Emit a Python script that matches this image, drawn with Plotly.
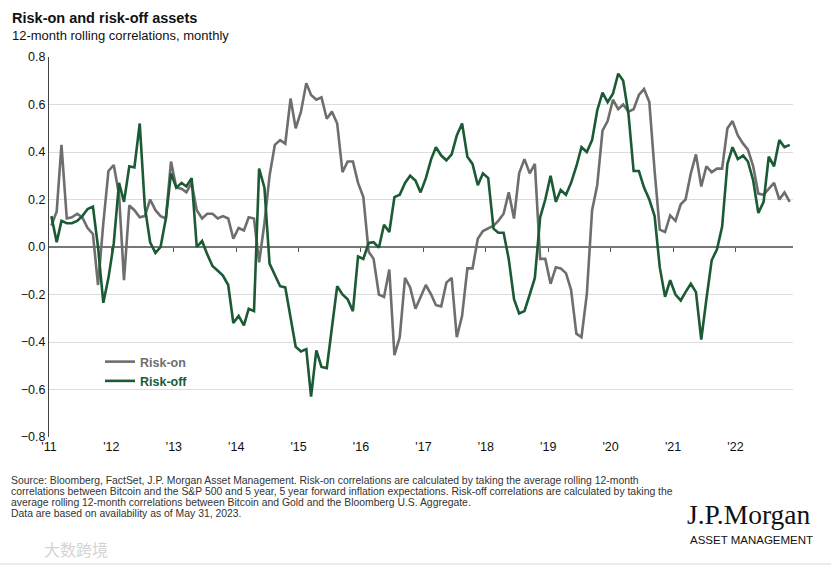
# risk_on_off.py
# Bitcoin 12-month rolling correlations with risk-on and risk-off assets,
# monthly from 2011. Values read off the J.P. Morgan chart by eye.

import pandas as pd
import plotly.graph_objects as go

# Risk-on: Bitcoin vs S&P 500 and 5y5y inflation expectations (avg)
risk_on = [
    0.09, 0.15, 0.43, 0.12, 0.125, 0.14, 0.125, 0.08, 0.055, -0.16,
    0.10, 0.32, 0.345, 0.22, -0.14, 0.175, 0.155, 0.125, 0.13, 0.20,
    0.155, 0.13, 0.12, 0.36, 0.25, 0.245, 0.23, 0.27, 0.155, 0.12,
    0.14, 0.14, 0.12, 0.13, 0.12, 0.035, 0.08, 0.07, 0.125, 0.12,
    -0.065, 0.10, 0.30, 0.43, 0.45, 0.435, 0.625, 0.50, 0.57, 0.69,
    0.64, 0.62, 0.63, 0.54, 0.57, 0.52, 0.315, 0.36, 0.36, 0.27,
    0.21, -0.02, -0.05, -0.20, -0.21, -0.095, -0.455, -0.38, -0.13, -0.17,
    -0.26, -0.21, -0.16, -0.20, -0.245, -0.25, -0.15, -0.13, -0.38, -0.29,
    -0.09, -0.09, 0.035, 0.067, 0.08, 0.09, 0.11, 0.14, 0.23, 0.12,
    0.31, 0.37, 0.31, 0.35, -0.05, -0.05, -0.155, -0.085, -0.09, -0.11,
    -0.18, -0.365, -0.38, -0.20, 0.155, 0.26, 0.49, 0.53, 0.62, 0.58,
    0.60, 0.57, 0.58, 0.64, 0.665, 0.61, 0.32, 0.073, 0.063, 0.133,
    0.11, 0.18, 0.20, 0.31, 0.39, 0.255, 0.34, 0.315, 0.33, 0.33,
    0.50, 0.53, 0.47, 0.435, 0.41, 0.34, 0.225, 0.22, 0.245, 0.27,
    0.20, 0.23, 0.19,
]

# Risk-off: Bitcoin vs Gold and Bloomberg U.S. Aggregate (avg)
risk_off = [
    0.13, 0.02, 0.11, 0.10, 0.10, 0.11, 0.13, 0.16, 0.17, 0.00,
    -0.235, -0.13, 0.015, 0.27, 0.19, 0.34, 0.335, 0.52, 0.17, 0.02,
    -0.025, 0.00, 0.12, 0.31, 0.25, 0.27, 0.255, 0.29, 0.00, 0.025,
    -0.03, -0.08, -0.10, -0.12, -0.16, -0.32, -0.29, -0.33, -0.26, -0.27,
    0.33, 0.25, -0.07, -0.12, -0.165, -0.17, -0.29, -0.42, -0.44, -0.43,
    -0.63, -0.435, -0.505, -0.51, -0.34, -0.165, -0.20, -0.22, -0.27, -0.04,
    -0.05, 0.017, 0.02, -0.003, 0.094, 0.063, 0.21, 0.22, 0.27, 0.30,
    0.28, 0.23, 0.29, 0.37, 0.42, 0.385, 0.365, 0.39, 0.47, 0.52,
    0.38, 0.35, 0.26, 0.31, 0.29, 0.077, 0.06, 0.06, -0.05, -0.22,
    -0.28, -0.27, -0.20, -0.13, 0.125, 0.20, 0.30, 0.19, 0.24, 0.22,
    0.27, 0.34, 0.42, 0.40, 0.45, 0.575, 0.65, 0.61, 0.645, 0.73,
    0.70, 0.56, 0.32, 0.32, 0.25, 0.20, 0.13, -0.085, -0.21, -0.14,
    -0.20, -0.225, -0.19, -0.155, -0.19, -0.39, -0.22, -0.056, -0.01, 0.085,
    0.35, 0.42, 0.37, 0.385, 0.36, 0.28, 0.143, 0.19, 0.38, 0.34,
    0.45, 0.42, 0.43,
]

years = list(range(2011, 2023))
year_labels = ["'" + str(y)[2:] for y in years]

source_lines = [
    "Source: Bloomberg, FactSet, J.P. Morgan Asset Management. Risk-on correlations are calculated by taking the average rolling 12-month",
    "correlations between Bitcoin and the S&P 500 and 5 year, 5 year forward inflation expectations. Risk-off correlations are calculated by taking the",
    "average rolling 12-month correlations between Bitcoin and Gold and the Bloomberg U.S. Aggregate.",
    "Data are based on availability as of May 31, 2023.",
]

GRAY = "#6e6e6e"
GREEN = "#1b5a34"
FONT = "Liberation Sans, Arial, sans-serif"

# monthly points, plotted mid-month
dates = pd.date_range("2011-01-01", periods=len(risk_on), freq="MS") + pd.Timedelta(days=14)
tick_dates = [pd.Timestamp(f"{y}-01-01") for y in years]
x_range = [pd.Timestamp("2011-01-01"), pd.Timestamp("2022-12-04")]

# plot box in pixels (831x566 canvas)
L, R, T, B = 49, 38, 57, 129
W, H = 831, 566
PW, PH = W - L - R, H - T - B


def px_x(x):
    return (x - L) / PW


def px_y(y):
    return (H - B - y) / PH


fig = go.Figure()

fig.add_trace(go.Scatter(
    x=dates, y=risk_on, mode="lines",
    name=f"<span style='color:{GRAY}'><b>Risk-on</b></span>",
    line=dict(color=GRAY, width=2.6),
))
fig.add_trace(go.Scatter(
    x=dates, y=risk_off, mode="lines",
    name=f"<span style='color:{GREEN}'><b>Risk-off</b></span>",
    line=dict(color=GREEN, width=2.6),
))
# invisible trace so the tick-only axis on the zero line gets drawn
fig.add_trace(go.Scatter(
    x=dates, y=[None] * len(dates), xaxis="x2", showlegend=False, hoverinfo="skip",
))

annotations = [
    dict(text="<b>Risk-on and risk-off assets</b>", x=px_x(10), y=px_y(18),
         font=dict(size=14.5, color="#111")),
    dict(text="12-month rolling correlations, monthly", x=px_x(10), y=px_y(35),
         font=dict(size=13, color="#111")),
    dict(text="J.P.Morgan", x=px_x(685), y=px_y(514),
         font=dict(size=27.5, color="#111", family="Liberation Serif, DejaVu Serif, serif")),
    dict(text="ASSET MANAGEMENT", x=px_x(688), y=px_y(540),
         font=dict(size=11.5, color="#111")),
    dict(text="大数跨境", x=px_x(42), y=px_y(549),
         font=dict(size=16, color="#d4d4d4", family="Noto Sans CJK SC")),
]
for i, line in enumerate(source_lines):
    annotations.append(dict(text=line, x=px_x(9), y=px_y(480 + i * 11.2),
                            font=dict(size=10.4, color="#333")))
for a in annotations:
    a.update(xref="paper", yref="paper", xanchor="left", yanchor="middle",
             showarrow=False)

fig.update_layout(
    width=W, height=H,
    margin=dict(l=L, r=R, t=T, b=B),
    paper_bgcolor="white", plot_bgcolor="white",
    font=dict(family=FONT, size=12, color="#222"),
    showlegend=True,
    legend=dict(x=px_x(100), y=px_y(347), xanchor="left", yanchor="top",
                bgcolor="rgba(0,0,0,0)", font=dict(size=12.5),
                itemwidth=30, tracegroupgap=0),
    xaxis=dict(
        type="date", range=x_range, tickvals=tick_dates, ticktext=year_labels,
        showgrid=False, zeroline=False, showline=False, ticks="",
        tickfont=dict(size=12.5, color="#111"),
    ),
    xaxis2=dict(
        type="date", range=x_range, overlaying="x", anchor="free", position=0.5,
        tickvals=tick_dates[1:], ticks="outside", ticklen=4, tickwidth=1,
        tickcolor="#555", showticklabels=False, showgrid=False,
        zeroline=False, showline=False,
    ),
    yaxis=dict(
        range=[-0.8, 0.8], dtick=0.2, tickformat=".1f",
        showgrid=True, gridcolor="#dcdcdc", gridwidth=1,
        zeroline=True, zerolinecolor="#777", zerolinewidth=1.6,
        showline=True, linecolor="#444", linewidth=1,
        ticks="", tickfont=dict(size=12.5, color="#111"),
    ),
    annotations=annotations,
    shapes=[dict(type="line", xref="paper", yref="paper",
                 x0=px_x(0), x1=px_x(W), y0=px_y(564), y1=px_y(564),
                 line=dict(color="#d8d8d8", width=1))],
)

# the page's default body margin would shift the figure 8px; drop it
fig.write_html("out.html", config={"displayModeBar": False},
               post_script="document.body.style.margin = '0';")
